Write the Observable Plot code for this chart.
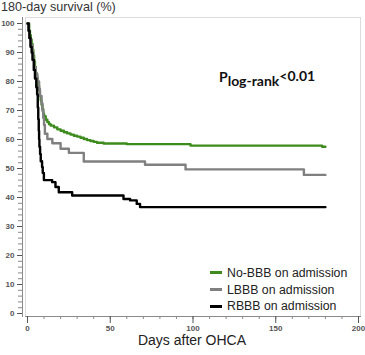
<!DOCTYPE html>
<html>
<head>
<meta charset="utf-8">
<script src="https://cdn.jsdelivr.net/npm/d3@7"></script>
<script src="https://cdn.jsdelivr.net/npm/@observablehq/plot@0.6"></script>
<style>
  body { margin: 0; background: #fff; }
  #wrap { position: relative; width: 365px; height: 355px; font-family: 'Liberation Sans', Arial, sans-serif; color: #222; }
  #chart { position: absolute; left: 0; top: 0; }
  .abs { position: absolute; white-space: nowrap; line-height: 1; }
  #legend { position: absolute; left: 210px; top: 264.6px; }
  .row { display: flex; align-items: center; height: 16.7px; font-size: 12.3px; }
  .sw { width: 12px; height: 3px; margin-right: 5px; }
  #plr { font-family: Lato, 'Open Sans', sans-serif; font-weight: 700; font-size: 14px; color: #111; }
</style>
</head>
<body>
<div id="wrap">
  <div id="chart"></div>
  <div class="abs" id="title" style="left:1px; top:1px; font-size:12.6px; color:#333;"></div>
  <div class="abs" id="xlabel" style="left:92px; width:200px; text-align:center; top:335px; line-height:11px; font-size:14px; color:#222;"></div>
  <div class="abs" id="plr" style="left:219px; top:70px;"></div>
  <div id="legend"></div>
</div>
<script>
// ---- data ----
const groups = ["No-BBB on admission", "LBBB on admission", "RBBB on admission"];
const colors = ["#3d8b1d", "#808080", "#000000"];

const noBBBDays = [0, 1, 1.5, 2, 2.5, 3, 3.5, 4, 4.5, 5, 5.5, 6, 6.5, 7, 7.5, 8, 8.5, 9, 9.5, 10, 11, 12, 13, 14, 16, 18, 20, 22, 24, 26, 28, 30, 32, 34, 36, 38, 40, 42, 46, 60, 98.5, 178, 180];
const noBBBSurv = [100, 97.5, 96, 94.5, 93, 91, 89, 87, 85, 83, 81.5, 80, 78.5, 77, 75, 73.5, 72, 70.5, 69, 68, 66.8, 66, 65.3, 64.8, 64.2, 63.5, 63, 62.5, 62.1, 61.7, 61.3, 61, 60.6, 60.2, 59.8, 59.5, 59.2, 58.9, 58.6, 58.4, 57.9, 57.5, 57.5];

const lbbbDays = [0, 0.5, 1, 2, 3, 3.5, 4, 5, 6, 7, 7.5, 8.5, 9, 9.5, 10, 10.5, 12, 15, 20, 25, 34, 71, 95.5, 167, 180];
const lbbbSurv = [100, 97.5, 95, 92.5, 90, 87.5, 85, 82.5, 80, 77.5, 75, 72.5, 70, 67.5, 65, 62, 60.2, 58.7, 56.8, 55.4, 52.4, 51.3, 49.7, 47.8, 47.8];

const rbbbDays = [0, 0.7, 1.2, 1.8, 2.5, 3, 3.8, 4.5, 5.3, 5.8, 6.2, 6.5, 6.8, 7, 7.2, 7.6, 8, 8.8, 9.2, 9.9, 14.9, 16.9, 18.9, 27, 58, 62, 66, 68, 180];
const rbbbSurv = [100, 97.5, 95, 92, 90, 87.5, 84, 81, 78, 75.5, 71, 67, 63, 60, 57.5, 55, 52.5, 50.5, 48.5, 46, 45.3, 43.6, 41.8, 40.7, 39.5, 39, 37.8, 36.7, 36.7];

const xTicks = [0, 50, 100, 150, 200];
const xMinorTicks = [0, 10, 20, 30, 40, 50, 60, 70, 80, 90, 100, 110, 120, 130, 140, 150, 160, 170, 180, 190, 200];
const yTicks = [0, 10, 20, 30, 40, 50, 60, 70, 80, 90, 100];
const yMinorTicks = [0, 2, 4, 6, 8, 10, 12, 14, 16, 18, 20, 22, 24, 26, 28, 30, 32, 34, 36, 38, 40, 42, 44, 46, 48, 50, 52, 54, 56, 58, 60, 62, 64, 66, 68, 70, 72, 74, 76, 78, 80, 82, 84, 86, 88, 90, 92, 94, 96, 98, 100];

const titleText = "180-day survival (%)";
const xLabelText = "Days after OHCA";

// ---- build tables ----
const table = (name, days, surv) => days.map((d, i) => ({ group: name, day: d, surv: surv[i] }));
const series = [
  table(groups[0], noBBBDays, noBBBSurv),
  table(groups[1], lbbbDays, lbbbSurv),
  table(groups[2], rbbbDays, rbbbSurv)
];

const axisColor = "#8a8a8a";
const chart = Plot.plot({
  width: 365,
  height: 355,
  marginLeft: 25,
  marginRight: 5,
  marginTop: 17,
  marginBottom: 39,
  style: { fontFamily: "'Liberation Sans', Arial, sans-serif", background: "transparent", overflow: "visible" },
  x: { domain: [-1.21, 201.2], label: null },
  y: { domain: [-1.03, 102.07], label: null },
  marks: [
    Plot.frame({ stroke: "#dcdcdc" }),
    Plot.frame({ anchor: "left", stroke: axisColor, dx: -3 }),
    Plot.frame({ anchor: "bottom", stroke: axisColor }),
    Plot.axisY({ ticks: yMinorTicks, tickSize: 4, tickFormat: () => "", dx: -3, color: axisColor, label: null }),
    Plot.axisY({ ticks: yTicks, tickSize: 5, tickPadding: 3, dx: -3, fontSize: 8, fontWeight: "bold", color: "#555", label: null }),
    Plot.axisX({ ticks: xMinorTicks, tickSize: 3, tickFormat: () => "", color: axisColor, label: null }),
    Plot.axisX({ ticks: xTicks, tickSize: 7, tickPadding: 2, fontSize: 8, fontWeight: "bold", color: "#555", label: null }),
    Plot.line(series[0], { x: "day", y: "surv", stroke: colors[0], strokeWidth: 2.4, curve: "step-after" }),
    Plot.line(series[1], { x: "day", y: "surv", stroke: colors[1], strokeWidth: 2.4, curve: "step-after" }),
    Plot.line(series[2], { x: "day", y: "surv", stroke: colors[2], strokeWidth: 2.4, curve: "step-after" })
  ]
});
document.getElementById("chart").appendChild(chart);

document.getElementById("title").textContent = titleText;
document.getElementById("xlabel").textContent = xLabelText;
document.getElementById("plr").innerHTML = 'P<span style="position:relative; top:4px;">log-rank</span><span style="position:relative; top:-1px;">&lt;0.01</span>';

const legend = document.getElementById("legend");
groups.forEach((g, i) => {
  const row = document.createElement("div");
  row.className = "row";
  const sw = document.createElement("div");
  sw.className = "sw";
  sw.style.background = colors[i];
  const tx = document.createElement("span");
  tx.textContent = g;
  row.appendChild(sw);
  row.appendChild(tx);
  legend.appendChild(row);
});
</script>
</body>
</html>
